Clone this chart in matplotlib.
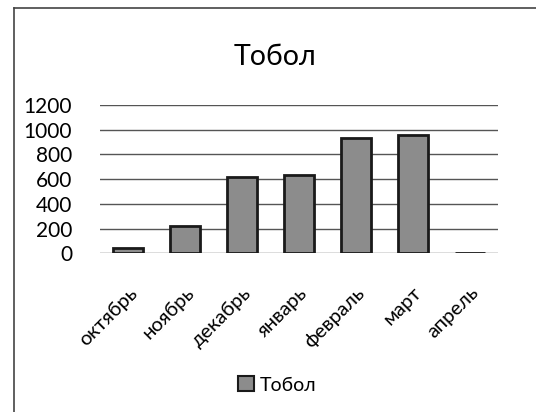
import matplotlib
matplotlib.use("Agg")
import matplotlib.pyplot as plt
from matplotlib.lines import Line2D
from matplotlib.patches import Patch

months = ["октябрь", "ноябрь", "декабрь", "январь", "февраль", "март", "апрель"]
values = [45, 222, 615, 630, 935, 955, 5]
series_name = "Тобол"
yticks = [0, 200, 400, 600, 800, 1000, 1200]

plt.rcParams['font.family'] = ['Lato', 'DejaVu Sans']

fig = plt.figure(figsize=(5.36, 4.12), dpi=100)
fig.patch.set_facecolor('white')
ax = fig.add_axes([100/536, 1-253.3/412, 398/536, (253.3-105)/412])

x = range(len(months))
ax.bar(x, values, width=0.53, color='#8c8c8c', edgecolor='#1a1a1a', linewidth=2.0, zorder=3)
ax.set_xlim(-0.5, len(months)-0.5)
ax.set_ylim(0, 1200)
ax.set_yticks(yticks)
ax.set_yticklabels([str(v) for v in yticks], fontsize=15)
ax.yaxis.grid(True, color='#555555', linewidth=1.0, zorder=0)
ax.set_axisbelow(True)
for s in ax.spines.values():
    s.set_visible(False)
ax.tick_params(axis='both', length=0)
ax.tick_params(axis='y', pad=20)
ax.set_xticks(list(x))
ax.set_xticklabels(months, rotation=45, ha='right', rotation_mode='anchor', fontsize=14.5)
ax.tick_params(axis='x', pad=22)

fig.text(275/536, 1-57/412, series_name, fontsize=20.5, ha='center', va='center')

leg = fig.legend(handles=[Patch(facecolor='#8c8c8c', edgecolor='#1a1a1a', linewidth=1.5, label=series_name)],
                 loc='center', bbox_to_anchor=(277/536, 1-385/412), frameon=False, fontsize=14,
                 handlelength=0.8, handleheight=0.8, handletextpad=0.3)

# chart border
fig.add_artist(Line2D([14/536, 14/536], [0, 1-8/412], color='#444444', linewidth=1.2))
fig.add_artist(Line2D([14/536, 1], [1-8/412, 1-8/412], color='#444444', linewidth=1.2))

fig.savefig("out.png", dpi=100)
